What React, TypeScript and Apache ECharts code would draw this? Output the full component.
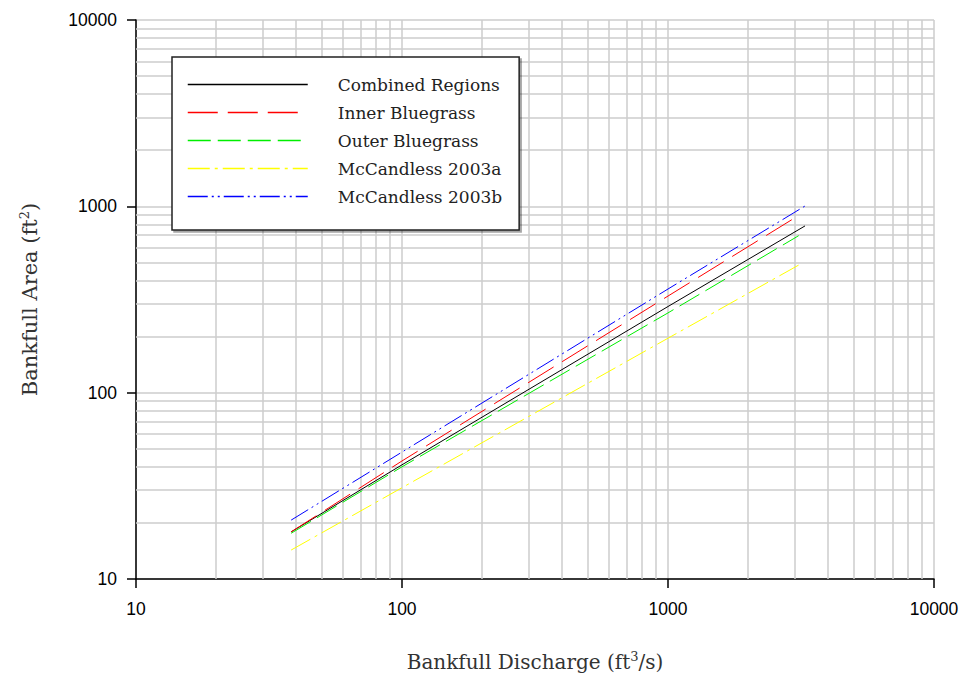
import React, { useEffect, useRef } from "react";
import * as echarts from "echarts";

const SERIES_NAMES = [
  "Combined Regions",
  "Inner Bluegrass",
  "Outer Bluegrass",
  "McCandless 2003a",
  "McCandless 2003b",
];

const Q_COMBINED = [38.3, 100, 1000, 3274];
const A_COMBINED = [17.9, 41, 290, 785];

const Q_INNER = [38.3, 100, 1000, 3047];
const A_INNER = [17.9, 43, 330, 880];

const Q_OUTER = [38.3, 100, 1000, 3100];
const A_OUTER = [17.6, 40, 268, 696];

const Q_MCC_A = [38.3, 100, 1000, 3100];
const A_MCC_A = [14.3, 30.9, 196, 484];

const Q_MCC_B = [38.3, 100, 1000, 3274];
const A_MCC_B = [20.7, 48, 360, 1004];

const MINOR_TICKS = [
  20, 30, 40, 50, 60, 70, 80, 90,
  200, 300, 400, 500, 600, 700, 800, 900,
  2000, 3000, 4000, 5000, 6000, 7000, 8000, 9000,
];

const COLORS = ["#000000", "#ff0000", "#00ee00", "#ffff00", "#0000ff"];
const DASHES: any[] = ["solid", [30, 10], [23, 7], [22, 5, 3, 5], [20, 4, 2, 4, 2, 4]];

const pairs = (q: number[], a: number[]) => q.map((v, i) => [v, a[i]]);

export default function App() {
  const ref = useRef<HTMLDivElement>(null);
  useEffect(() => {
    if (!ref.current) return;
    const chart = echarts.init(ref.current, undefined, { renderer: "svg" });
    const datas = [
      pairs(Q_COMBINED, A_COMBINED),
      pairs(Q_INNER, A_INNER),
      pairs(Q_OUTER, A_OUTER),
      pairs(Q_MCC_A, A_MCC_A),
      pairs(Q_MCC_B, A_MCC_B),
    ];
    const gridColor = "#cccccc";
    const axisLabelStyle = {
      fontFamily: "Liberation Sans",
      fontSize: 17.5,
      color: "#000",
      formatter: (v: number) => String(Math.round(v)),
    };
    const nameStyle = (size: number) => ({
      fontFamily: "DejaVu Serif",
      fontSize: size,
      color: "#333",
      rich: {
        sup: {
          fontFamily: "DejaVu Serif",
          fontSize: 13,
          color: "#333",
          verticalAlign: "top",
          padding: [0, 0, 10, 0],
        },
      },
    });
    const option: any = {
      animation: false,
      backgroundColor: "#fff",
      grid: { left: 136, top: 20, right: 28, bottom: 98, containLabel: false },
      xAxis: {
        type: "log",
        logBase: 10,
        min: 10,
        max: 10000,
        name: "Bankfull Discharge (ft{sup|3}/s)",
        nameLocation: "middle",
        nameGap: 71,
        nameTextStyle: nameStyle(20),
        axisLine: { show: true, onZero: false, lineStyle: { color: "#000", width: 1.5 } },
        axisTick: { show: true, inside: false, length: 9, lineStyle: { color: "#000", width: 1.5 } },
        axisLabel: { ...axisLabelStyle, margin: 21 },
        splitLine: { show: true, lineStyle: { color: gridColor, width: 1.5 } },
        minorTick: { show: false },
      },
      yAxis: {
        type: "log",
        logBase: 10,
        min: 10,
        max: 10000,
        name: "Bankfull Area (ft{sup|2})",
        nameLocation: "middle",
        nameGap: 95,
        nameTextStyle: nameStyle(21),
        axisLine: { show: true, onZero: false, lineStyle: { color: "#000", width: 1.5 } },
        axisTick: { show: true, inside: false, length: 9, lineStyle: { color: "#000", width: 1.5 } },
        axisLabel: { ...axisLabelStyle, margin: 19 },
        splitLine: { show: true, lineStyle: { color: gridColor, width: 1.5 } },
        minorTick: { show: false },
      },
      legend: {
        data: SERIES_NAMES,
        orient: "vertical",
        left: 172,
        top: 57,
        itemWidth: 120,
        itemHeight: 14,
        itemGap: 11,
        padding: [19, 17, 25, 15],
        backgroundColor: "#ffffff",
        borderColor: "#222",
        borderWidth: 1.5,
        shadowColor: "rgba(0,0,0,0.35)",
        shadowBlur: 1,
        shadowOffsetX: 2,
        shadowOffsetY: 2,
        selectedMode: false,
        itemStyle: { color: "transparent", borderWidth: 0, opacity: 0 },
        lineStyle: { width: 1.5 },
        textStyle: {
          fontFamily: "DejaVu Serif",
          fontSize: 17,
          color: "#222",
          padding: [0, 0, 0, 25],
        },
      },
      series: [
        ...SERIES_NAMES.map((name, i) => ({
          name,
          type: "line",
          data: datas[i],
          symbol: "none",
          showSymbol: false,
          z: 3,
          lineStyle: { color: COLORS[i], width: 1, type: DASHES[i] },
          itemStyle: { color: COLORS[i] },
          silent: true,
        })),
        {
          name: "minor-grid",
          type: "line",
          data: [],
          symbol: "none",
          silent: true,
          z: 1,
          markLine: {
            z: 1,
            silent: true,
            symbol: ["none", "none"],
            label: { show: false },
            emphasis: { disabled: true },
            lineStyle: { color: gridColor, width: 1.5, type: "solid" },
            data: [
              ...MINOR_TICKS.map((v) => ({ xAxis: v })),
              ...MINOR_TICKS.map((v) => ({ yAxis: v })),
            ],
          },
        },
      ],
    };
    chart.setOption(option);
    return () => chart.dispose();
  }, []);
  return (
    <div
      ref={ref}
      style={{ position: "absolute", left: 0, top: 0, width: 962, height: 677 }}
    />
  );
}
